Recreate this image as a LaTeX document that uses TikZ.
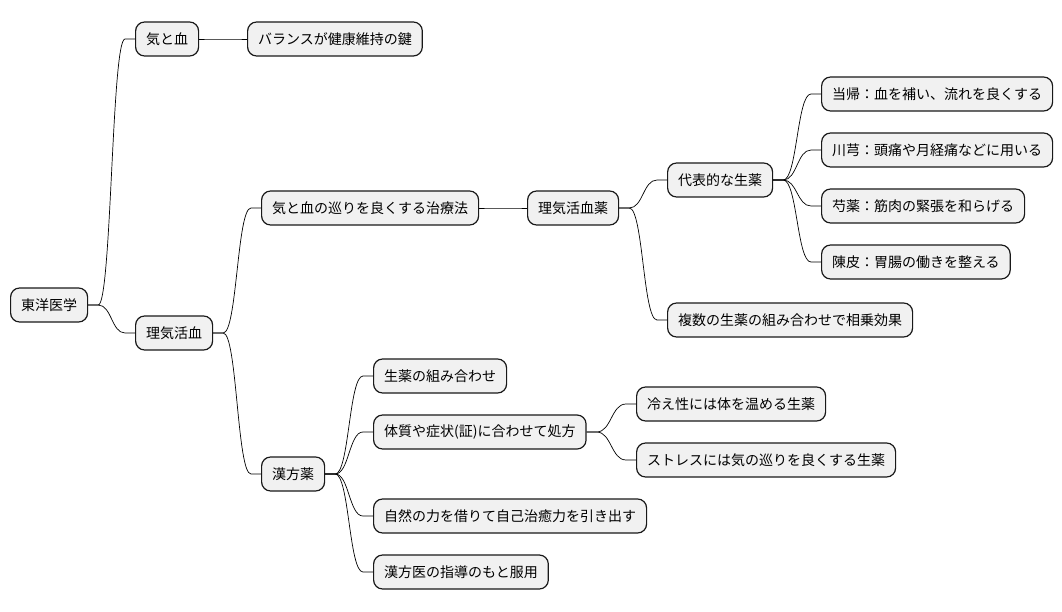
\documentclass[tikz,border=0pt]{standalone}
\usepackage{fontspec}
\setmainfont{Noto Sans CJK JP}
\usetikzlibrary{calc}
\definecolor{boxfill}{HTML}{F1F1F1}
\tikzset{
  topic/.style={draw=black!90, fill=boxfill, line width=1.2pt, rounded corners=9pt,
    anchor=west, minimum height=34pt, inner xsep=10.5pt,
    font=\fontsize{14}{16}\selectfont},
  link/.style={line width=0.7pt}
}

\begin{document}
\begin{tikzpicture}[x=1pt, y=-1pt]
    \useasboundingbox (0,0) rectangle (1062,612);

    % root and first level
    \node[topic] (root) at (10,305) {東洋医学};
    \node[topic] (kiketsu) at (135,39) {気と血};
    \node[topic] (balance) at (247,39) {バランスが健康維持の鍵};
    \node[topic] (riki) at (135,333) {理気活血};

    % treatment branch
    \node[topic] (junkan) at (261,208) {気と血の巡りを良くする治療法};
    \node[topic] (yaku) at (527,208) {理気活血薬};
    \node[topic] (daihyo) at (667,180) {代表的な生薬};
    \node[topic] (toki) at (821,94) {当帰：血を補い、流れを良くする};
    \node[topic] (senkyu) at (821,150) {川芎：頭痛や月経痛などに用いる};
    \node[topic] (shakuyaku) at (821,206) {芍薬：筋肉の緊張を和らげる};
    \node[topic] (chinpi) at (821,262) {陳皮：胃腸の働きを整える};
    \node[topic] (sojo) at (667,320) {複数の生薬の組み合わせで相乗効果};

    % kampo branch
    \node[topic] (kampo) at (261,474) {漢方薬};
    \node[topic] (kumiawase) at (373,376) {生薬の組み合わせ};
    \node[topic] (shoho) at (373,432) {体質や症状(証)に合わせて処方};
    \node[topic] (hie) at (636,404) {冷え性には体を温める生薬};
    \node[topic] (stress) at (636,460) {ストレスには気の巡りを良くする生薬};
    \node[topic] (chiyu) at (373,516) {自然の力を借りて自己治癒力を引き出す};
    \node[topic] (fukuyo) at (373,572) {漢方医の指導のもと服用};

    \foreach \a/\b in {root/kiketsu, kiketsu/balance, root/riki, riki/junkan,
        junkan/yaku, yaku/daihyo, daihyo/toki, daihyo/senkyu, daihyo/shakuyaku,
        daihyo/chinpi, yaku/sojo, riki/kampo, kampo/kumiawase, kampo/shoho,
        shoho/hie, shoho/stress, kampo/chiyu, kampo/fukuyo} {
        \path (\a.east) ++(10,0) coordinate (p);
        \path (\b.west) ++(-10,0) coordinate (q);
        \coordinate (m) at ($(p)!.5!(q)$);
        \draw[link] (\a.east) -- (p) .. controls (m |- p) and (m |- q) .. (q) -- (\b.west);
    }
\end{tikzpicture}
\end{document}
